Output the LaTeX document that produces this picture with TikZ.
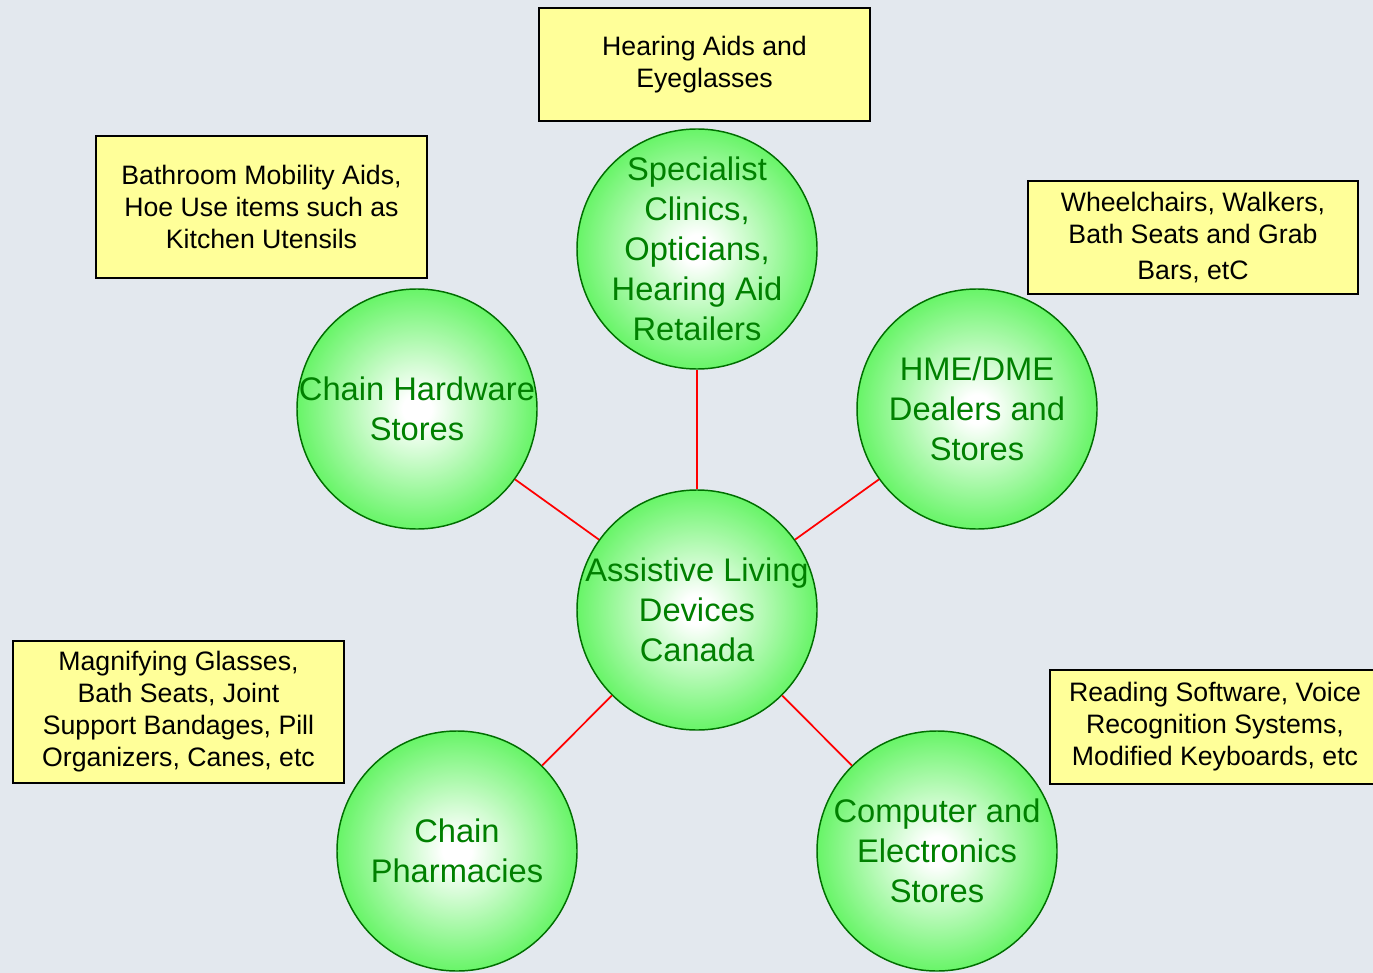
\documentclass[tikz,border=0pt]{standalone}
\usepackage{fontspec}
\setmainfont{Liberation Sans}
\usepackage{tikz}
\definecolor{bgcol}{RGB}{227,232,238}
\definecolor{ballgreen}{RGB}{70,242,70}
\definecolor{rimgreen}{RGB}{0,110,0}
\definecolor{txtgreen}{RGB}{0,128,0}
\definecolor{notecol}{RGB}{255,255,153}
\pgfdeclareradialshading{ballshade}{\pgfpoint{0bp}{0bp}}{color(0bp)=(white); color(3bp)=(white); color(15bp)=(ballgreen!45!white); color(30bp)=(ballgreen); color(50bp)=(ballgreen)}

\begin{document}
\begin{tikzpicture}[x=0.75pt,y=-0.75pt,
        ball/.style={circle,draw=rimgreen,line width=1.1pt,shading=ballshade,minimum size=180pt,inner sep=-30pt,text=txtgreen,align=center,font=\fontsize{24.5}{30}\selectfont},
        note/.style={rectangle,draw=black,line width=1.3pt,fill=notecol,minimum width=248pt,align=center,font=\fontsize{20}{24}\selectfont},
        link/.style={draw=red,line width=1.3pt}]
        \fill[bgcol] (0,0) rectangle (1373,973);
        \useasboundingbox (0,0) rectangle (1373,973);
        \node[ball] (hub) at (697,610) {Assistive Living\\Devices\\Canada};
        \node[ball] (spec) at (697,249) {Specialist\\Clinics,\\Opticians,\\Hearing Aid\\Retailers};
        \node[ball] (hard) at (417,409) {Chain Hardware\\Stores};
        \node[ball] (hme) at (977,409) {HME/DME\\Dealers and\\Stores};
        \node[ball] (pharm) at (457,851) {Chain\\Pharmacies};
        \node[ball] (comp) at (937,851) {Computer and\\Electronics\\Stores};
        \draw[link] (hub)--(spec);
        \draw[link] (hub)--(hard);
        \draw[link] (hub)--(hme);
        \draw[link] (hub)--(pharm);
        \draw[link] (hub)--(comp);
        \node[note,minimum height=85pt] (optic) at (704.5,64.5) {Hearing Aids and\\Eyeglasses};
        \node[note,minimum height=106.5pt] (kitchen) at (261.5,207) {Bathroom Mobility Aids,\\Hoe Use items such as\\Kitchen Utensils};
        \node[note,minimum height=85pt] (mobil) at (1193,237.5) {Wheelchairs, Walkers,\\Bath Seats and Grab\\[3pt]Bars, etC};
        \node[note,minimum height=106.5pt] (drug) at (178.5,712) {Magnifying Glasses,\\Bath Seats, Joint\\Support Bandages, Pill\\Organizers, Canes, etc};
        \node[note,minimum height=85pt] (soft) at (1215,727) {Reading Software, Voice\\Recognition Systems,\\Modified Keyboards, etc};
    \end{tikzpicture}
\end{document}
